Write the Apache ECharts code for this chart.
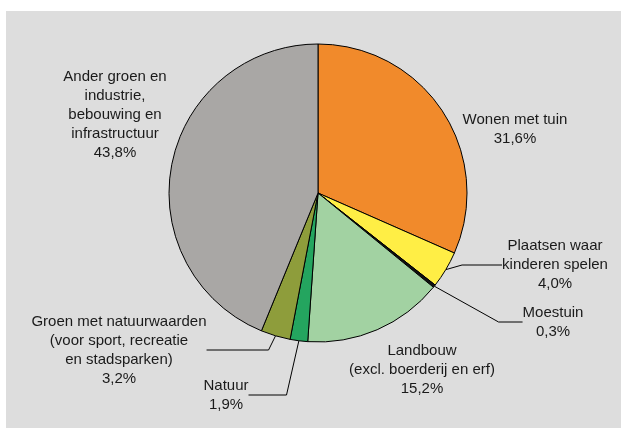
<!DOCTYPE html>
<html>
<head>
<meta charset="utf-8">
<script src="https://cdn.jsdelivr.net/npm/echarts@6/dist/echarts.min.js"></script>
<style>
  html, body { margin: 0; padding: 0; background: #ffffff; }
  #chart { position: absolute; left: 6px; top: 11px; width: 615px; height: 417px; background: #dddddd; }
</style>
</head>
<body>
<div id="chart"></div>
<script>
// Gegevens (percentages, met de klok mee vanaf boven)
var categories = [
  'Wonen met tuin',
  'Plaatsen waar\nkinderen spelen',
  'Moestuin',
  'Landbouw\n(excl. boerderij en erf)',
  'Natuur',
  'Groen met natuurwaarden\n(voor sport, recreatie\nen stadsparken)',
  'Ander groen en\nindustrie,\nbebouwing en\ninfrastructuur'
];
var values = [31.6, 4.0, 0.3, 15.2, 1.9, 3.2, 43.8];
var valueLabels = ['31,6%', '4,0%', '0,3%', '15,2%', '1,9%', '3,2%', '43,8%'];
var colors = ['#f18a2b', '#ffee45', '#111111', '#a2d2a2', '#24a55f', '#8e9d3b', '#a9a7a5'];
var withLine = [false, true, true, false, true, true, false];
var lineTail = [0, 40, 24, 0, 38, 62, 0];

// label-posities (midden van het tekstblok, in px binnen de grafiek)
var labelPos = [
  [509, 118], [549, 254], [547, 311], [416, 359],
  [220, 384], [113, 339], [109, 104]
];

var chart = echarts.init(document.getElementById('chart'));

var data = values.map(function (v, i) {
  return {
    name: categories[i],
    value: v,
    itemStyle: { color: colors[i] },
    labelLine: { show: withLine[i], length2: lineTail[i] }
  };
});

var option = {
  animation: false,
  series: [{
    type: 'pie',
    center: [312, 182],
    radius: 149,
    startAngle: 90,
    clockwise: true,
    avoidLabelOverlap: false,
    data: data,
    itemStyle: { borderColor: '#000000', borderWidth: 1 },
    emphasis: { disabled: true },
    label: {
      show: true,
      position: 'outside',
      color: '#1a1a1a',
      fontFamily: 'Liberation Sans, Arial, sans-serif',
      fontSize: 15,
      lineHeight: 19,
      align: 'center',
      formatter: function (p) {
        return p.name + '\n' + valueLabels[p.dataIndex];
      }
    },
    labelLine: {
      show: true,
      length: 10,
      length2: 30,
      lineStyle: { color: '#000000', width: 1 }
    },
    labelLayout: function (params) {
      var p = labelPos[params.dataIndex];
      return {
        x: p[0],
        y: p[1],
        align: 'center',
        verticalAlign: 'middle'
      };
    }
  }]
};

chart.setOption(option);

window.addEventListener('resize', function () {
  chart.resize();
});
</script>
</body>
</html>
